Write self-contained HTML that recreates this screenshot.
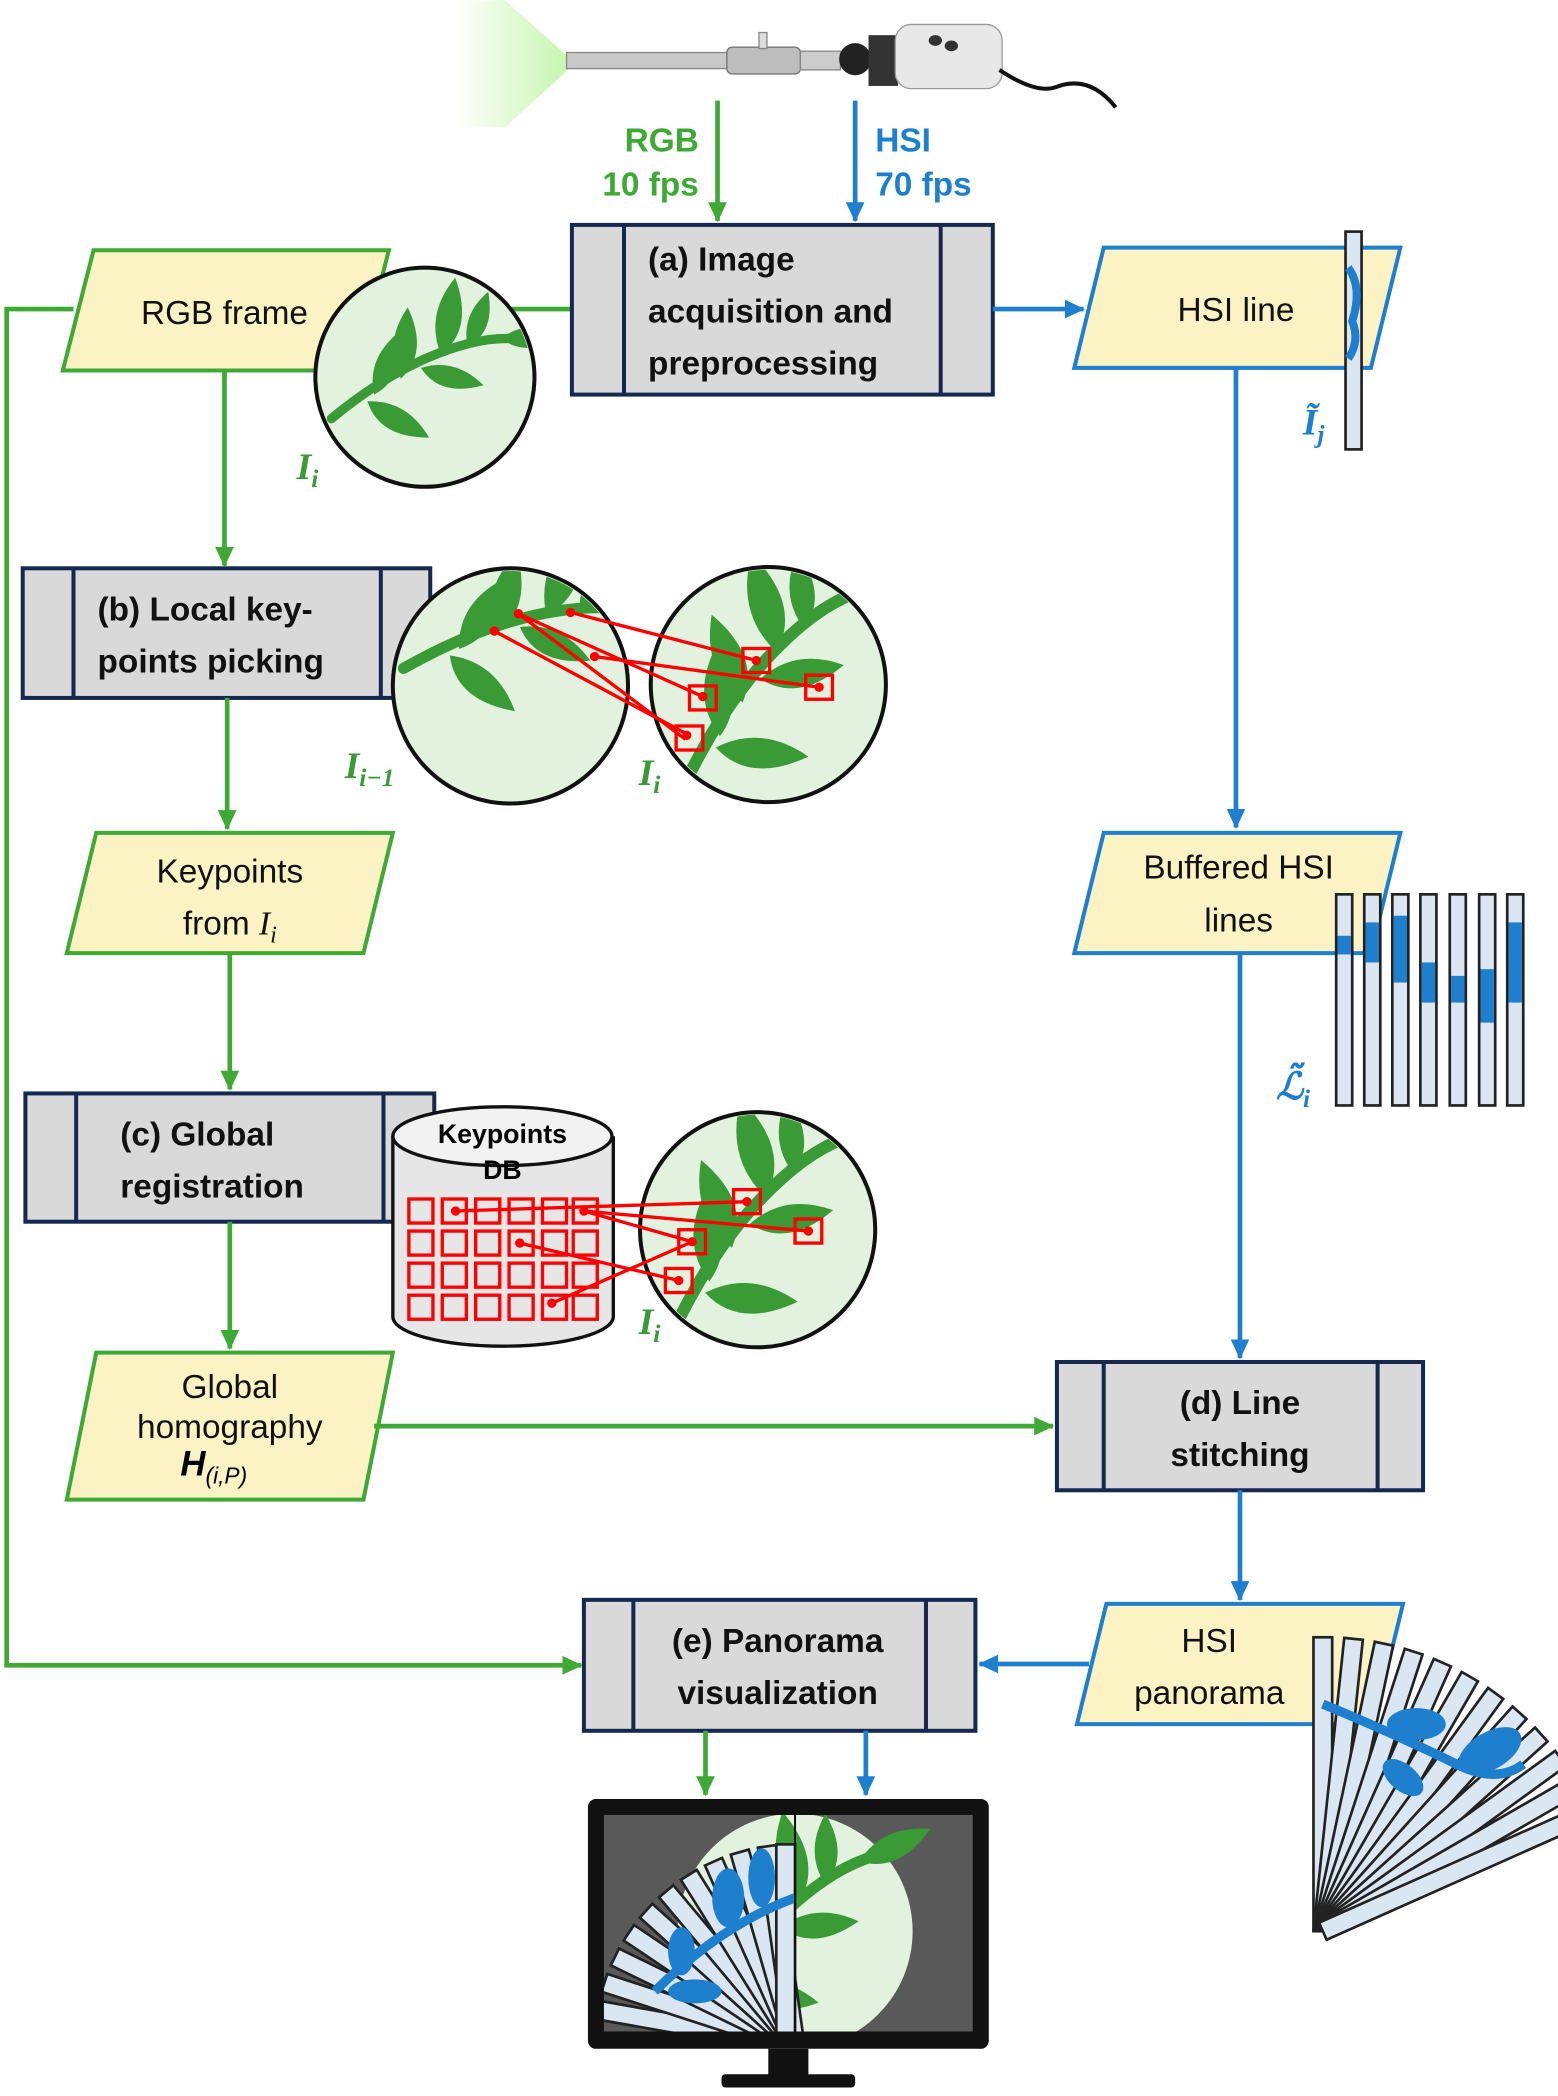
<!DOCTYPE html>
<html><head><meta charset="utf-8"><style>
html,body{margin:0;padding:0;background:#fff}
svg{display:block}
text{font-family:"Liberation Sans",sans-serif}
.bx{fill:#d9d9d9;stroke:#142850;stroke-width:3}
.bt{font-size:25px;font-weight:bold;fill:#111}
.pt{font-size:25px;fill:#111}
.gp{fill:#fcf3c4;stroke:#3ea935;stroke-width:3}
.bp{fill:#fcf3c4;stroke:#1f7fcf;stroke-width:3}
.g{stroke:#3ea935;stroke-width:3.5;fill:none}
.b{stroke:#1f7fcf;stroke-width:3.5;fill:none}
.lab{font-family:"Liberation Serif",serif;font-style:italic;font-weight:bold;font-size:28px}
.strip{fill:#dbe6f3;stroke:#222;stroke-width:2}
.r{stroke:#f00;stroke-width:2.5;fill:none}
</style></head><body>
<svg width="1558" height="2096" viewBox="0 0 1166 1568" xmlns="http://www.w3.org/2000/svg">
<defs>
<marker id="ag" markerWidth="15" markerHeight="14" refX="14" refY="7" orient="auto" markerUnits="userSpaceOnUse" viewBox="0 0 15 14"><path d="M0,0L15,7L0,14Z" fill="#3ea935"/></marker>
<marker id="ab" markerWidth="15" markerHeight="14" refX="14" refY="7" orient="auto" markerUnits="userSpaceOnUse" viewBox="0 0 15 14"><path d="M0,0L15,7L0,14Z" fill="#1f7fcf"/></marker>
<linearGradient id="cone" x1="0" x2="1"><stop offset="0" stop-color="#c8f5b0" stop-opacity="0"/><stop offset="1" stop-color="#c8f5b0"/></linearGradient>
<path id="lf" d="M0,0 Q20,-18 48,-8 Q22,14 0,0Z"/>
<g id="branch">
<path d="M-72,38 Q-20,-5 30,-18 Q45,-22 60,-22" stroke="#3a9a36" stroke-width="7" fill="none" stroke-linecap="round"/>
<g fill="#3a9a36">
<use href="#lf" transform="translate(-40,20) rotate(-60)"/>
<use href="#lf" transform="translate(-20,8) rotate(-75) scale(1.1)"/>
<use href="#lf" transform="translate(-5,0) rotate(25)"/>
<use href="#lf" transform="translate(10,-10) rotate(-70) scale(1.2)"/>
<use href="#lf" transform="translate(30,-16) rotate(-60) scale(0.9)"/>
<use href="#lf" transform="translate(55,-22) rotate(5)"/>
<use href="#lf" transform="translate(-45,25) rotate(40) scale(1.1)"/>
</g>
</g>
<clipPath id="c1"><circle cx="318" cy="282" r="80"/></clipPath>
<clipPath id="c2"><circle cx="382" cy="513" r="86"/></clipPath>
<clipPath id="c3"><circle cx="575" cy="512" r="86"/></clipPath>
<clipPath id="c4"><circle cx="567" cy="920" r="86"/></clipPath>
<clipPath id="mon"><rect x="452" y="1358" width="276" height="162"/></clipPath>
<g id="fanstrip"><rect x="-7" y="-150" width="14" height="150" class="strip"/></g>
<g id="fanlong"><rect x="-7" y="-220" width="14" height="220" class="strip"/></g>
</defs>

<!-- endoscope -->
<path d="M340,0 L378,0 L425,42 L425,52 L378,95 L340,95Z" fill="url(#cone)"/>
<rect x="424" y="39" width="120" height="12" fill="#c9c9c9" stroke="#888"/>
<rect x="544" y="35" width="55" height="20" rx="4" fill="#bdbdbd" stroke="#777"/>
<rect x="568" y="24" width="6" height="12" fill="#ddd" stroke="#888"/>
<rect x="599" y="38" width="30" height="14" fill="#ccc" stroke="#888"/>
<circle cx="640" cy="44" r="12" fill="#222"/>
<rect x="650" y="26" width="22" height="38" fill="#333"/>
<rect x="670" y="18" width="80" height="48" rx="12" fill="#e8e8e8" stroke="#999"/>
<ellipse cx="700" cy="30" rx="5" ry="4" fill="#333"/><ellipse cx="712" cy="34" rx="5" ry="4" fill="#333"/>
<path d="M748,52 Q775,70 790,65 Q815,55 835,80" stroke="#111" stroke-width="3" fill="none"/>

<!-- top arrows -->
<line x1="537" y1="75" x2="537" y2="165" class="g" marker-end="url(#ag)"/>
<line x1="640" y1="75" x2="640" y2="165" class="b" marker-end="url(#ab)"/>
<text x="523" y="113" text-anchor="end" font-size="25" font-weight="bold" fill="#3ea935">RGB</text>
<text x="523" y="146" text-anchor="end" font-size="25" font-weight="bold" fill="#3ea935">10 fps</text>
<text x="655" y="113" font-size="25" font-weight="bold" fill="#1f7fcf">HSI</text>
<text x="655" y="146" font-size="25" font-weight="bold" fill="#1f7fcf">70 fps</text>

<!-- green left loop -->
<polyline points="428,231 380,231" class="g"/>
<polyline points="55,231 5,231 5,1246 435,1246" class="g" marker-end="url(#ag)"/>

<!-- (a) -->
<rect x="428" y="168" width="315" height="127" class="bx"/>
<line x1="467" y1="168" x2="467" y2="295" stroke="#142850" stroke-width="3"/>
<line x1="704" y1="168" x2="704" y2="295" stroke="#142850" stroke-width="3"/>
<text x="485" y="202" class="bt">(a) Image</text>
<text x="485" y="241" class="bt">acquisition and</text>
<text x="485" y="280" class="bt">preprocessing</text>

<!-- RGB frame -->
<polygon points="47,277 70,187 291,187 268,277" class="gp"/>
<text x="168" y="242" text-anchor="middle" class="pt">RGB frame</text>
<circle cx="318" cy="282" r="82" fill="#e2f2df" stroke="#111" stroke-width="3"/>
<g clip-path="url(#c1)"><use href="#branch" transform="translate(320,275)"/></g>
<text x="222" y="358" class="lab" fill="#3a9a36">I<tspan font-size="19" dy="6">i</tspan></text>

<line x1="168" y1="277" x2="168" y2="423" class="g" marker-end="url(#ag)"/>

<!-- (b) -->
<rect x="17" y="425" width="305" height="97" class="bx"/>
<line x1="55" y1="425" x2="55" y2="522" stroke="#142850" stroke-width="3"/>
<line x1="285" y1="425" x2="285" y2="522" stroke="#142850" stroke-width="3"/>
<text x="73" y="464" class="bt">(b) Local key-</text>
<text x="73" y="503" class="bt">points picking</text>

<circle cx="382" cy="513" r="88" fill="#e2f2df" stroke="#111" stroke-width="3"/>
<g clip-path="url(#c2)"><use href="#branch" transform="translate(395,470) rotate(10) scale(1.2)"/></g>
<circle cx="575" cy="512" r="88" fill="#e2f2df" stroke="#111" stroke-width="3"/>
<g clip-path="url(#c3)"><use href="#branch" transform="translate(575,505) rotate(-25) scale(1.3)"/></g>
<g class="r">
<line x1="388" y1="459" x2="513" y2="553"/><line x1="370" y1="472" x2="514" y2="549"/>
<line x1="427" y1="458" x2="566" y2="494"/><line x1="445" y1="491" x2="613" y2="514"/>
<line x1="388" y1="459" x2="526" y2="521"/>
<rect x="506" y="543" width="20" height="18"/><rect x="516" y="513" width="20" height="18"/>
<rect x="556" y="485" width="20" height="18"/><rect x="603" y="505" width="20" height="18"/>
</g>
<g fill="#f00"><circle cx="388" cy="459" r="3.5"/><circle cx="370" cy="472" r="3.5"/><circle cx="427" cy="458" r="3.5"/><circle cx="445" cy="491" r="3.5"/><circle cx="514" cy="550" r="3.5"/><circle cx="526" cy="521" r="3.5"/><circle cx="566" cy="494" r="3.5"/><circle cx="613" cy="514" r="3.5"/></g>
<text x="258" y="582" class="lab" fill="#3a9a36">I<tspan font-size="19" dy="6">i−1</tspan></text>
<text x="478" y="587" class="lab" fill="#3a9a36">I<tspan font-size="19" dy="6">i</tspan></text>

<line x1="170" y1="522" x2="170" y2="620" class="g" marker-end="url(#ag)"/>

<!-- Keypoints -->
<polygon points="50,713 72,623 294,623 272,713" class="gp"/>
<text x="172" y="660" text-anchor="middle" class="pt">Keypoints</text>
<text x="172" y="699" text-anchor="middle" class="pt">from <tspan font-family="Liberation Serif" font-style="italic">I</tspan><tspan font-family="Liberation Serif" font-style="italic" font-size="18" dy="6">i</tspan></text>

<line x1="172" y1="713" x2="172" y2="815" class="g" marker-end="url(#ag)"/>

<!-- (c) -->
<rect x="19" y="818" width="306" height="96" class="bx"/>
<line x1="57" y1="818" x2="57" y2="914" stroke="#142850" stroke-width="3"/>
<line x1="287" y1="818" x2="287" y2="914" stroke="#142850" stroke-width="3"/>
<text x="90" y="857" class="bt">(c) Global</text>
<text x="90" y="896" class="bt">registration</text>

<path d="M294,850 L294,985 A82,22 0 0 0 459,985 L459,850" fill="#e6e6e6" stroke="#111" stroke-width="2.5"/>
<ellipse cx="376" cy="850" rx="82" ry="22" fill="#f2f2f2" stroke="#111" stroke-width="2.5"/>
<text x="376" y="855" text-anchor="middle" font-size="20" font-weight="bold">Keypoints</text>
<text x="376" y="882" text-anchor="middle" font-size="20" font-weight="bold">DB</text>
<g class="r" stroke-width="2">
<rect x="306" y="897" width="18" height="18"/><rect x="331" y="897" width="18" height="18"/><rect x="356" y="897" width="18" height="18"/><rect x="381" y="897" width="18" height="18"/><rect x="406" y="897" width="18" height="18"/><rect x="429" y="897" width="18" height="18"/>
<rect x="306" y="921" width="18" height="18"/><rect x="331" y="921" width="18" height="18"/><rect x="356" y="921" width="18" height="18"/><rect x="381" y="921" width="18" height="18"/><rect x="406" y="921" width="18" height="18"/><rect x="429" y="921" width="18" height="18"/>
<rect x="306" y="945" width="18" height="18"/><rect x="331" y="945" width="18" height="18"/><rect x="356" y="945" width="18" height="18"/><rect x="381" y="945" width="18" height="18"/><rect x="406" y="945" width="18" height="18"/><rect x="429" y="945" width="18" height="18"/>
<rect x="306" y="969" width="18" height="18"/><rect x="331" y="969" width="18" height="18"/><rect x="356" y="969" width="18" height="18"/><rect x="381" y="969" width="18" height="18"/><rect x="406" y="969" width="18" height="18"/><rect x="429" y="969" width="18" height="18"/>
</g>
<circle cx="567" cy="920" r="88" fill="#e2f2df" stroke="#111" stroke-width="3"/>
<g clip-path="url(#c4)"><use href="#branch" transform="translate(567,913) rotate(-25) scale(1.3)"/></g>
<g class="r">
<line x1="341" y1="906" x2="559" y2="899"/><line x1="437" y1="906" x2="605" y2="921"/>
<line x1="389" y1="930" x2="508" y2="958"/><line x1="413" y1="975" x2="518" y2="929"/>
<line x1="437" y1="906" x2="518" y2="929"/>
<rect x="549" y="890" width="20" height="18"/><rect x="595" y="912" width="20" height="18"/>
<rect x="508" y="920" width="20" height="18"/><rect x="498" y="949" width="20" height="18"/>
</g>
<g fill="#f00"><circle cx="341" cy="906" r="3.5"/><circle cx="437" cy="906" r="3.5"/><circle cx="389" cy="930" r="3.5"/><circle cx="413" cy="975" r="3.5"/><circle cx="559" cy="899" r="3.5"/><circle cx="605" cy="921" r="3.5"/><circle cx="518" cy="929" r="3.5"/><circle cx="508" cy="958" r="3.5"/></g>
<text x="478" y="998" class="lab" fill="#3a9a36">I<tspan font-size="19" dy="6">i</tspan></text>

<line x1="172" y1="914" x2="172" y2="1009" class="g" marker-end="url(#ag)"/>

<!-- Global homography -->
<polygon points="50,1122 72,1012 294,1012 272,1122" class="gp"/>
<text x="172" y="1046" text-anchor="middle" class="pt">Global</text>
<text x="172" y="1076" text-anchor="middle" class="pt">homography</text>
<text x="160" y="1104" text-anchor="middle" font-family="Liberation Serif" font-style="italic" font-weight="bold" font-size="26">H<tspan font-size="17" font-weight="normal" dy="6">(i,P)</tspan></text>

<line x1="280" y1="1067" x2="788" y2="1067" class="g" marker-end="url(#ag)"/>

<!-- HSI line -->
<line x1="743" y1="231" x2="811" y2="231" class="b" marker-end="url(#ab)"/>
<polygon points="804,275 826,185 1048,185 1026,275" class="bp"/>
<text x="925" y="240" text-anchor="middle" class="pt">HSI line</text>
<rect x="1007" y="173" width="12" height="163" class="strip"/>
<path d="M1009,200 Q1020,215 1012,240 Q1018,255 1009,268" stroke="#1f7fcf" stroke-width="6" fill="none"/>
<text x="975" y="325" class="lab" fill="#1f7fcf">Ĩ<tspan font-size="19" dy="6">j</tspan></text>

<line x1="925" y1="275" x2="925" y2="619" class="b" marker-end="url(#ab)"/>

<!-- Buffered -->
<polygon points="804,713 826,623 1048,623 1026,713" class="bp"/>
<text x="927" y="657" text-anchor="middle" class="pt">Buffered HSI</text>
<text x="927" y="697" text-anchor="middle" class="pt">lines</text>
<g>
<rect x="1000" y="669" width="12" height="158" class="strip"/>
<rect x="1021" y="669" width="12" height="158" class="strip"/>
<rect x="1042" y="669" width="12" height="158" class="strip"/>
<rect x="1063" y="669" width="12" height="158" class="strip"/>
<rect x="1085" y="669" width="12" height="158" class="strip"/>
<rect x="1107" y="669" width="12" height="158" class="strip"/>
<rect x="1128" y="669" width="12" height="158" class="strip"/>
</g>
<g fill="#1f7fcf">
<rect x="1001" y="700" width="10" height="14"/><rect x="1022" y="690" width="10" height="30"/><rect x="1043" y="685" width="10" height="50"/><rect x="1064" y="720" width="10" height="30"/><rect x="1086" y="730" width="10" height="20"/><rect x="1108" y="725" width="10" height="40"/><rect x="1129" y="690" width="10" height="60"/>
</g>
<text x="955" y="822" class="lab" fill="#1f7fcf">ℒ̃<tspan font-size="19" dy="6">i</tspan></text>

<line x1="928" y1="713" x2="928" y2="1016" class="b" marker-end="url(#ab)"/>

<!-- (d) -->
<rect x="791" y="1019" width="274" height="96" class="bx"/>
<line x1="826" y1="1019" x2="826" y2="1115" stroke="#142850" stroke-width="3"/>
<line x1="1031" y1="1019" x2="1031" y2="1115" stroke="#142850" stroke-width="3"/>
<text x="928" y="1058" text-anchor="middle" class="bt">(d) Line</text>
<text x="928" y="1097" text-anchor="middle" class="bt">stitching</text>

<line x1="928" y1="1115" x2="928" y2="1197" class="b" marker-end="url(#ab)"/>

<!-- HSI panorama -->
<polygon points="806,1290 828,1200 1050,1200 1028,1290" class="bp"/>
<text x="905" y="1236" text-anchor="middle" class="pt">HSI</text>
<text x="905" y="1275" text-anchor="middle" class="pt">panorama</text>
<g transform="translate(990,1445)">
<use href="#fanlong" transform="rotate(0)"/><use href="#fanlong" transform="rotate(6)"/><use href="#fanlong" transform="rotate(12)"/><use href="#fanlong" transform="rotate(18)"/><use href="#fanlong" transform="rotate(24)"/><use href="#fanlong" transform="rotate(30)"/><use href="#fanlong" transform="rotate(36)"/><use href="#fanlong" transform="rotate(42)"/><use href="#fanlong" transform="rotate(48)"/><use href="#fanlong" transform="rotate(54)"/><use href="#fanlong" transform="rotate(60)"/><use href="#fanlong" transform="rotate(66)"/>
</g>
<path d="M990,1275 Q1050,1300 1090,1320 Q1120,1335 1140,1320" stroke="#1f7fcf" stroke-width="7" fill="none"/>
<g fill="#1f7fcf"><ellipse cx="1060" cy="1290" rx="22" ry="12"/><ellipse cx="1115" cy="1310" rx="26" ry="14" transform="rotate(-30 1115 1310)"/><ellipse cx="1050" cy="1330" rx="18" ry="10" transform="rotate(40 1050 1330)"/></g>

<line x1="815" y1="1245" x2="733" y2="1245" class="b" marker-end="url(#ab)"/>

<!-- (e) -->
<rect x="437" y="1197" width="293" height="98" class="bx"/>
<line x1="474" y1="1197" x2="474" y2="1295" stroke="#142850" stroke-width="3"/>
<line x1="693" y1="1197" x2="693" y2="1295" stroke="#142850" stroke-width="3"/>
<text x="582" y="1236" text-anchor="middle" class="bt">(e) Panorama</text>
<text x="582" y="1275" text-anchor="middle" class="bt">visualization</text>

<line x1="528" y1="1295" x2="528" y2="1343" class="g" marker-end="url(#ag)"/>
<line x1="648" y1="1295" x2="648" y2="1343" class="b" marker-end="url(#ab)"/>

<!-- monitor -->
<rect x="440" y="1346" width="300" height="187" rx="6" fill="#111"/>
<rect x="452" y="1358" width="276" height="162" fill="#595959"/>
<g clip-path="url(#mon)">
<circle cx="595" cy="1445" r="88" fill="#e2f2df"/>
<use href="#branch" transform="translate(590,1440) rotate(-20) scale(1.2)"/>
<g transform="translate(595,1530)">
<use href="#fanstrip" transform="rotate(-80)"/><use href="#fanstrip" transform="rotate(-72)"/><use href="#fanstrip" transform="rotate(-64)"/><use href="#fanstrip" transform="rotate(-56)"/><use href="#fanstrip" transform="rotate(-48)"/><use href="#fanstrip" transform="rotate(-40)"/><use href="#fanstrip" transform="rotate(-32)"/><use href="#fanstrip" transform="rotate(-24)"/><use href="#fanstrip" transform="rotate(-16)"/><use href="#fanstrip" transform="rotate(-8)"/><use href="#fanstrip" transform="translate(-7,0)"/>
</g>
<path d="M490,1490 Q540,1440 595,1420" stroke="#1f7fcf" stroke-width="7" fill="none"/>
<g fill="#1f7fcf"><ellipse cx="545" cy="1420" rx="12" ry="22"/><ellipse cx="570" cy="1405" rx="10" ry="22"/><ellipse cx="510" cy="1460" rx="10" ry="18"/><ellipse cx="520" cy="1490" rx="20" ry="9"/></g>
<line x1="595" y1="1358" x2="595" y2="1520" stroke="#111" stroke-width="1.5"/>
</g>
<rect x="575" y="1533" width="30" height="22" fill="#111"/>
<rect x="540" y="1552" width="100" height="10" rx="3" fill="#111"/>
</svg>
</body></html>
